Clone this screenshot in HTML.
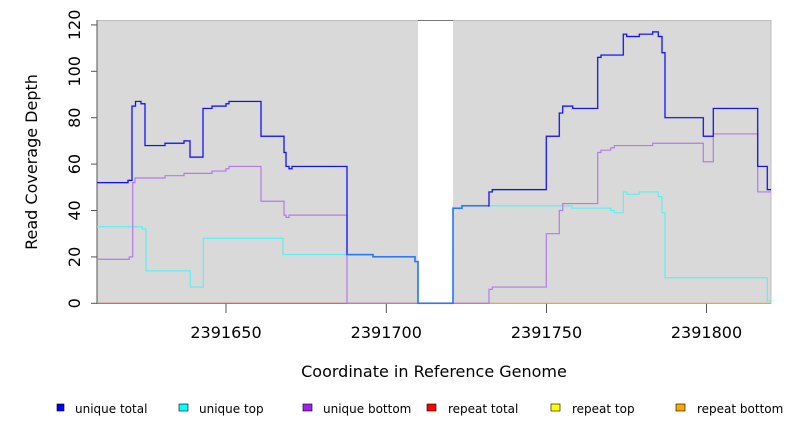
<!DOCTYPE html>
<html><head><meta charset="utf-8"><style>
html,body{margin:0;padding:0;background:#fff;}
svg text{font-family:"DejaVu Sans","Liberation Sans",sans-serif;}
</style></head><body>
<svg id="s" width="792" height="432" xmlns="http://www.w3.org/2000/svg">
<rect x="97" y="20.5" width="674" height="283" fill="#d9d9d9" stroke="#bdbdbd" stroke-width="1"/>
<rect x="418" y="20" width="35" height="283.5" fill="#fff"/>
<line x1="418" y1="20.5" x2="453" y2="20.5" stroke="#777" stroke-width="1"/>
<line x1="97" y1="20" x2="97" y2="304" stroke="#555" stroke-width="1"/>
<g stroke="#555" stroke-width="1">
<line x1="91" y1="303.3" x2="97" y2="303.3"/><line x1="91" y1="256.9" x2="97" y2="256.9"/>
<line x1="91" y1="210.5" x2="97" y2="210.5"/><line x1="91" y1="164.1" x2="97" y2="164.1"/>
<line x1="91" y1="117.7" x2="97" y2="117.7"/><line x1="91" y1="71.3" x2="97" y2="71.3"/>
<line x1="91" y1="24.9" x2="97" y2="24.9"/>
<line x1="226" y1="303" x2="226" y2="313"/><line x1="386.3" y1="303" x2="386.3" y2="313"/>
<line x1="546.5" y1="303" x2="546.5" y2="313"/><line x1="706.5" y1="303" x2="706.5" y2="313"/>
</g>
<g font-size="16" fill="#000" text-anchor="middle">
<text transform="translate(75,303.3) rotate(-90)" dy="5">0</text>
<text transform="translate(75,256.9) rotate(-90)" dy="5">20</text>
<text transform="translate(75,210.5) rotate(-90)" dy="5">40</text>
<text transform="translate(75,164.1) rotate(-90)" dy="5">60</text>
<text transform="translate(75,117.7) rotate(-90)" dy="5">80</text>
<text transform="translate(75,71.3) rotate(-90)" dy="5">100</text>
<text transform="translate(75,24.9) rotate(-90)" dy="5">120</text>
<text x="226" y="338">2391650</text><text x="386.3" y="338">2391700</text>
<text x="546.5" y="338">2391750</text><text x="706.5" y="338">2391800</text>
<text x="434" y="377">Coordinate in Reference Genome</text>
<text transform="translate(37,162) rotate(-90)">Read Coverage Depth</text>
</g>
<line x1="97" y1="303.3" x2="418" y2="303.3" stroke="#e8505a" stroke-width="1.2"/>
<line x1="453" y1="303.3" x2="489" y2="303.3" stroke="#e8505a" stroke-width="1.2"/>
<line x1="489" y1="303.3" x2="771" y2="303.3" stroke="#f5a030" stroke-width="1.2"/>
<g id="series"></g>
<g font-size="12" fill="#000">
<rect x="57" y="404" width="7" height="7" fill="#0000ff" stroke="#000" stroke-width="0.6"/><text x="75" y="413">unique total</text>
<rect x="179" y="404" width="9" height="7" fill="#00ffff" stroke="#000" stroke-width="0.6"/><text x="199" y="413">unique top</text>
<rect x="303" y="404" width="9" height="7" fill="#a020f0" stroke="#000" stroke-width="0.6"/><text x="323" y="413">unique bottom</text>
<rect x="427" y="404" width="9" height="7" fill="#ff0000" stroke="#000" stroke-width="0.6"/><text x="448" y="413">repeat total</text>
<rect x="551" y="404" width="9" height="7" fill="#ffff00" stroke="#000" stroke-width="0.6"/><text x="572" y="413">repeat top</text>
<rect x="676" y="404" width="9" height="7" fill="#ffa500" stroke="#000" stroke-width="0.6"/><text x="697" y="413">repeat bottom</text>
</g>
</svg>
<script>
function Y(v){return 303.3-2.32*v;}
function step(arr,end){var p=[];for(var i=0;i<arr.length;i++){var x=arr[i][0],v=arr[i][1];var nx=i+1<arr.length?arr[i+1][0]:end;p.push(x+","+Y(v));p.push(nx+","+Y(v));}return p.join(" ");}
var cyan=[[97,33],[142.3,32],[146,14],[190.3,7],[203.3,28],[283,21],[347,21],[373,20],[415,18],[418,0],[453,41],[462,42],[572,41],[610.7,40],[614.3,39],[623.3,48],[626.7,47],[639.3,48],[658.3,46],[662,39],[665,11],[767.3,1]];
var purple=[[97,19],[129.3,20],[132.7,52],[135,54],[165,55],[184,56],[212,57],[226,58],[229,59],[261,44],[284,38],[286,37],[289,38],[347,0],[489,6],[492.3,7],[546.3,30],[559.3,40],[562.7,43],[597.7,65],[601,66],[610.7,67],[614.3,68],[652.7,69],[703.3,61],[713.3,73],[757.7,48]];
var blue=[[97,52],[128,53],[132,85],[135.5,87],[141,86],[145,68],[165,69],[184,70],[190,63],[203,84],[212,85],[226,86],[229,87],[261,72],[284,65],[286,59],[289,58],[292,59],[347,21],[373,20],[415,18],[418,0],[453,41],[462,42],[489,48],[492.3,49],[546.3,72],[559.3,82],[562.7,85],[572.7,84],[597.7,106],[601,107],[623.3,116],[626.7,115],[639.3,116],[652.7,117],[658.3,115],[662,108],[665,80],[703.3,72],[713.3,84],[757.7,59],[767.3,49]];
var overlap=[[347,21],[373,20],[415,18],[418,0],[453,41],[462,42]];
var g=document.getElementById("series");
g.innerHTML='<polyline fill="none" stroke="#5ef0f0" stroke-width="1.2" points="'+step(cyan,771)+'"/>'+
'<polyline fill="none" stroke="#b57ae8" stroke-width="1.2" points="'+step(purple,771)+'"/>'+
'<polyline fill="none" stroke="#9a9ac0" stroke-width="2.2" opacity="0.3" points="'+step(blue,771)+'"/>'+
'<polyline fill="none" stroke="#1010ff" stroke-width="1.2" points="'+step(blue,771)+'"/>'+
'<polyline fill="none" stroke="#1e7cff" stroke-width="1.3" points="'+step(overlap,488)+'"/>';
</script>
</body></html>
